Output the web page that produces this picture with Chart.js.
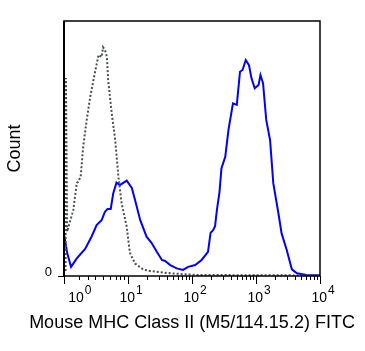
<!DOCTYPE html>
<html>
<head>
<meta charset="utf-8">
<script src="https://cdn.jsdelivr.net/npm/chart.js@4/dist/chart.umd.min.js"></script>
<style>
  html, body { margin: 0; padding: 0; background: #fff; }
  canvas { display: block; }
</style>
</head>
<body>
<canvas id="histo" width="365" height="351"></canvas>
<script>
// x values are in display decades (10^k sits at k), y is relative count (top of axis = 100)
const stainedX = [0, 0.05, 0.11, 0.20, 0.33, 0.43, 0.51, 0.59, 0.64, 0.68, 0.73, 0.77, 0.82, 0.875, 0.98, 1.06, 1.11, 1.19, 1.29, 1.37, 1.45, 1.53, 1.58, 1.66, 1.76, 1.86, 1.94, 2.05, 2.15, 2.25, 2.29, 2.33, 2.36, 2.39, 2.43, 2.46, 2.52, 2.57, 2.64, 2.70, 2.75, 2.79, 2.84, 2.89, 2.93, 2.98, 3.04, 3.07, 3.11, 3.16, 3.22, 3.27, 3.35, 3.40, 3.48, 3.56, 3.64, 3.79, 4.0];
const stainedY = [16.5, 9, 3.6, 6.9, 10.6, 15.4, 20, 22, 25.2, 26.3, 26.3, 32.5, 36.6, 35.7, 37.4, 34.5, 29.8, 22, 15.4, 12.9, 9.5, 6.3, 5.9, 4.3, 3.0, 2.4, 3.6, 4.3, 6.3, 9.5, 16.9, 18, 19.5, 26, 33, 42.2, 46.8, 57.3, 67.7, 67.1, 80.1, 80.8, 84.7, 82.7, 77.5, 73.6, 74.9, 78.8, 75.6, 61.2, 53.3, 36.4, 24.6, 16.7, 10.2, 2.6, 1.1, 0.4, 0.3];

const controlX = [0.025, 0.03, 0.05, 0.145, 0.20, 0.22, 0.26, 0.30, 0.355, 0.41, 0.46, 0.54, 0.59, 0.61, 0.64, 0.67, 0.69, 0.745, 0.80, 0.85, 0.90, 0.98, 1.03, 1.11, 1.24, 1.34, 1.55, 1.81, 2.07, 4.0];
const controlY = [2, 77.6, 17.4, 25.9, 36.5, 36.9, 38.9, 50.7, 61.2, 70.3, 76.9, 86.7, 85.9, 89.7, 88.6, 86, 76.9, 63.9, 53.3, 38.9, 28.6, 19.3, 9, 4.9, 2.5, 2, 1.3, 0.8, 0.4, 0.2];

// axis decorations
const majorTicks = [0, 1, 2, 3, 4];
const labelPos = [0.2, 1, 2, 3, 4];
const labelExp = ['0', '1', '2', '3', '4'];
const firstDecadeMinor = [0.23, 0.375, 0.48, 0.61, 0.72, 0.81, 0.875, 0.94];
const xTitle = 'Mouse MHC Class II (M5/114.15.2) FITC';

const toPoints = (xs, ys) => xs.map((x, i) => ({ x: x, y: ys[i] }));

Chart.defaults.font.family = 'Arial, "Liberation Sans", sans-serif';
Chart.defaults.color = '#000';

// frame, minor ticks, 10^n labels and the x title (drawn here so it isn't squeezed to the axis width)
const axisDecor = {
  id: 'axisDecor',
  afterDraw(chart) {
    const ctx = chart.ctx;
    const a = chart.chartArea;
    const xs = chart.scales.x;
    ctx.save();
    ctx.strokeStyle = '#000';
    ctx.lineWidth = 1.5;
    ctx.strokeRect(a.left, a.top, a.right - a.left, a.bottom - a.top);
    ctx.lineWidth = 2;
    ctx.beginPath();
    ctx.moveTo(a.left, a.top);
    ctx.lineTo(a.left, a.bottom);
    ctx.stroke();

    // minor ticks
    ctx.lineWidth = 1;
    const minors = firstDecadeMinor.slice();
    for (let d = 1; d < 4; d++) {
      for (let m = 2; m <= 9; m++) minors.push(d + Math.log10(m));
    }
    ctx.beginPath();
    minors.forEach(v => {
      const px = Math.round(xs.getPixelForValue(v)) + 0.5;
      ctx.moveTo(px, a.bottom);
      ctx.lineTo(px, a.bottom + 4);
    });
    ctx.stroke();

    // tick labels
    ctx.fillStyle = '#000';
    ctx.textBaseline = 'alphabetic';
    labelPos.forEach((v, i) => {
      const px = xs.getPixelForValue(v);
      ctx.font = '14px Arial, "Liberation Sans"';
      ctx.textAlign = 'right';
      ctx.fillText('10', px + 7, 302);
      ctx.font = '12px Arial, "Liberation Sans"';
      ctx.textAlign = 'left';
      ctx.fillText(labelExp[i], px + 8, 294);
    });

    // x axis title
    ctx.font = '18px Arial, "Liberation Sans"';
    ctx.textAlign = 'center';
    ctx.fillText(xTitle, (a.left + a.right) / 2, 328);
    ctx.restore();
  }
};

new Chart(document.getElementById('histo'), {
  type: 'line',
  data: {
    datasets: [
      {
        label: 'Isotype',
        data: toPoints(controlX, controlY),
        borderColor: '#4a4f50',
        borderWidth: 2,
        borderDash: [2, 2],
        pointRadius: 0,
        fill: false,
        tension: 0,
      },
      {
        label: 'MHC Class II',
        data: toPoints(stainedX, stainedY),
        borderColor: '#0000ff',
        borderWidth: 2,
        pointRadius: 0,
        fill: false,
        tension: 0,
      },
    ],
  },
  options: {
    responsive: false,
    animation: false,
    devicePixelRatio: 1,
    layout: { padding: { top: 21, right: 45, left: 0, bottom: 0 } },
    plugins: {
      legend: { display: false },
      tooltip: { enabled: false },
    },
    scales: {
      x: {
        type: 'linear',
        min: 0,
        max: 4,
        afterBuildTicks: (scale) => {
          scale.ticks = majorTicks.map(v => ({ value: v }));
        },
        afterFit: (scale) => { scale.height = 75; },
        ticks: { display: false },
        grid: { drawOnChartArea: false, tickLength: 8, color: '#000', lineWidth: 1 },
        border: { display: false },
        title: { display: false },
      },
      y: {
        min: 0,
        max: 100,
        afterBuildTicks: (scale) => {
          scale.ticks = [{ value: 0 }];
        },
        afterFit: (scale) => { scale.width = 64; },
        ticks: {
          font: { size: 13 },
          padding: 6,
          labelOffset: -4,
          callback: () => '0',
        },
        grid: { drawOnChartArea: false, tickLength: 6, color: '#000' },
        border: { display: false },
        title: {
          display: true,
          text: 'Count',
          font: { size: 18 },
          padding: { top: 4, bottom: 0 },
        },
      },
    },
  },
  plugins: [axisDecor],
});
</script>
</body>
</html>
